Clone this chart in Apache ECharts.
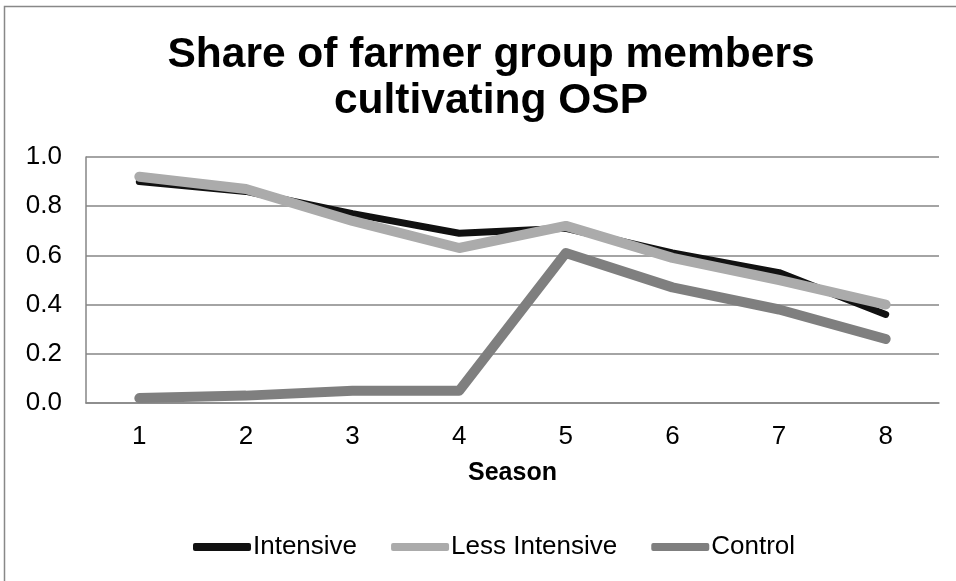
<!DOCTYPE html>
<html>
<head>
<meta charset="utf-8">
<script src="https://cdn.jsdelivr.net/npm/echarts@6/dist/echarts.min.js"></script>
<style>
  html, body { margin: 0; padding: 0; background: #fff; }
  #chart { width: 956px; height: 581px; }
</style>
</head>
<body>
<div id="chart"></div>
<script>
// seasons on x axis
var seasons = ['1', '2', '3', '4', '5', '6', '7', '8'];
var seriesNames = ['Intensive', 'Less Intensive', 'Control'];
// share of members cultivating OSP
var intensive = [0.90, 0.86, 0.77, 0.69, 0.71, 0.61, 0.53, 0.36];
var lessIntensive = [0.92, 0.87, 0.74, 0.63, 0.72, 0.59, 0.50, 0.40];
var control = [0.02, 0.03, 0.05, 0.05, 0.61, 0.47, 0.38, 0.26];

var font = 'Liberation Sans, Arial, sans-serif';
var colors = ['#111111', '#ababab', '#7f7f7f'];
var widths = [7, 10, 10];
var values = [intensive, lessIntensive, control];

var chart = echarts.init(document.getElementById('chart'));

var series = [];
for (var i = 0; i < seriesNames.length; i++) {
    series.push({
        name: seriesNames[i],
        type: 'line',
        data: values[i],
        symbol: 'none',
        lineStyle: { color: colors[i], width: widths[i], cap: 'round', join: 'round' },
        itemStyle: { color: colors[i] },
        z: 2 + i
    });
}

var option = {
    backgroundColor: '#fff',
    animation: false,
    title: {
        text: 'Share of farmer group members\ncultivating OSP',
        left: 486,
        textAlign: 'center',
        top: 27,
        textStyle: { fontFamily: font, fontWeight: 'bold', fontSize: 42.5, lineHeight: 46, color: '#000' }
    },
    graphic: [{
        type: 'rect',
        shape: { x: 4.5, y: 6.5, width: 1200, height: 1200 },
        style: { fill: 'none', stroke: '#888', lineWidth: 1.5 },
        z: 0
    }],
    legend: {
        data: seriesNames,
        left: 188,
        top: 529,
        itemWidth: 58,
        itemHeight: 8,
        itemGap: 34,
        icon: 'roundRect',
        textStyle: { fontFamily: font, fontSize: 26, color: '#000', padding: [0, 0, 0, -3] }
    },
    grid: { left: 86, right: 17, top: 157, bottom: 178 },
    xAxis: {
        type: 'category',
        data: seasons,
        name: 'Season',
        nameLocation: 'middle',
        nameGap: 58,
        nameTextStyle: { fontFamily: font, fontWeight: 'bold', fontSize: 25, color: '#000' },
        axisLine: { lineStyle: { color: '#868686', width: 1.5 } },
        axisTick: { show: false },
        axisLabel: { fontFamily: font, fontSize: 26, color: '#000', margin: 21 }
    },
    yAxis: {
        type: 'value',
        min: 0,
        max: 1,
        interval: 0.2,
        axisLine: { show: true, lineStyle: { color: '#868686', width: 1.5 } },
        axisTick: { show: false },
        splitLine: { lineStyle: { color: '#868686', width: 1.5 } },
        axisLabel: {
            fontFamily: font, fontSize: 26, color: '#000', margin: 24,
            formatter: function (v) { return v.toFixed(1); }
        }
    },
    series: series
};

chart.setOption(option);
</script>
</body>
</html>
